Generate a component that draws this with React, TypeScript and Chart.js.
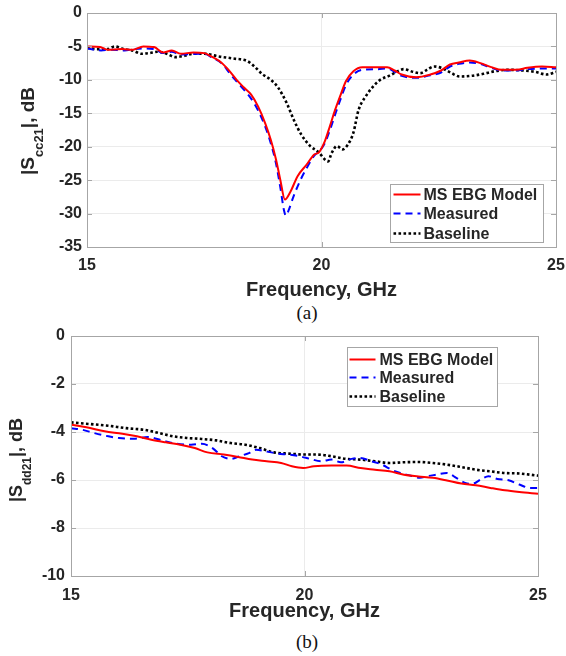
import React, { useEffect, useRef } from 'react';
import { Chart, registerables } from 'chart.js';

Chart.register(...registerables);

// ---------- (a) |Scc21| ----------
const aModelFreq = [15, 15.28, 15.44, 15.74, 15.97, 16.2, 16.43, 16.62, 16.81, 17.0, 17.27, 17.5, 17.65, 17.88, 18.04, 18.19, 18.34, 18.5, 18.65, 18.8, 18.92, 19.03, 19.12, 19.22, 19.34, 19.49, 19.68, 19.84, 19.95, 20.07, 20.18, 20.29, 20.41, 20.52, 20.68, 20.87, 21.17, 21.4, 21.56, 21.71, 22.02, 22.32, 22.55, 22.74, 22.93, 23.16, 23.39, 23.62, 23.85, 24.16, 24.39, 24.7, 25];
const aModel = [-5.0, -5.1, -5.5, -5.4, -5.5, -5.0, -5.1, -5.9, -5.6, -6.1, -5.9, -6.0, -6.5, -7.5, -8.7, -10.0, -11.1, -12.2, -14.0, -16.5, -19.0, -21.9, -24.9, -27.9, -26.7, -24.4, -22.7, -21.2, -20.8, -19.2, -16.9, -14.5, -12.2, -10.2, -8.7, -8.1, -8.1, -8.1, -8.6, -9.2, -9.6, -9.2, -8.6, -7.7, -7.4, -7.1, -7.5, -8.1, -8.5, -8.5, -8.2, -8.0, -8.1];

const aMeasuredFreq = [15, 15.3, 15.5, 15.8, 16.0, 16.2, 16.45, 16.62, 16.8, 17.0, 17.5, 17.65, 17.9, 18.04, 18.2, 18.35, 18.5, 18.65, 18.8, 18.92, 19.03, 19.12, 19.2, 19.24, 19.3, 19.4, 19.55, 19.7, 19.85, 19.95, 20.07, 20.18, 20.3, 20.41, 20.52, 20.68, 20.87, 21.2, 21.4, 21.56, 21.71, 22.02, 22.32, 22.55, 22.74, 22.93, 23.16, 23.39, 23.62, 23.85, 24.16, 24.39, 24.7, 25];
const aMeasured = [-5.3, -5.6, -5.5, -5.6, -5.4, -5.3, -5.4, -6.0, -5.8, -6.2, -6.1, -6.6, -7.7, -9.0, -10.3, -11.5, -12.8, -14.6, -17.0, -19.5, -22.5, -26.0, -29.5, -30.3, -29.5, -27.5, -25.0, -23.0, -21.3, -20.7, -19.5, -17.5, -15.0, -12.8, -10.8, -9.2, -8.5, -8.4, -8.3, -8.8, -9.4, -9.7, -9.3, -8.9, -8.0, -7.6, -7.4, -7.6, -8.2, -8.6, -8.6, -8.4, -8.3, -8.3];

const aBaselineFreq = [15, 15.21, 15.44, 15.59, 15.78, 15.97, 16.16, 16.32, 16.51, 16.7, 16.89, 17.08, 17.27, 17.5, 17.81, 18.11, 18.42, 18.57, 18.73, 18.92, 19.07, 19.26, 19.41, 19.57, 19.76, 19.95, 20.07, 20.14, 20.22, 20.33, 20.45, 20.56, 20.68, 20.79, 20.94, 21.1, 21.25, 21.44, 21.63, 21.75, 21.95, 22.1, 22.25, 22.4, 22.55, 22.75, 22.95, 23.2, 23.45, 23.7, 24.0, 24.3, 24.55, 24.8, 25];
const aBaseline = [-5.2, -5.4, -5.4, -5.0, -5.4, -5.6, -6.1, -6.0, -5.8, -6.1, -6.6, -6.4, -6.1, -6.1, -6.5, -6.8, -7.2, -8.0, -9.1, -10.0, -11.1, -13.5, -16.0, -18.2, -19.9, -20.9, -21.9, -22.2, -20.9, -19.9, -20.4, -19.7, -17.9, -14.5, -12.5, -11.0, -10.0, -9.4, -8.7, -8.4, -8.8, -9.0, -8.5, -8.0, -8.2, -8.9, -9.5, -9.4, -9.1, -8.7, -8.5, -8.6, -8.8, -9.2, -8.8];

// ---------- (b) |Sdd21| ----------
const bModelFreq = [15, 15.33, 15.72, 16.1, 16.41, 16.72, 17.03, 17.34, 17.65, 17.92, 18.27, 18.58, 18.88, 19.19, 19.5, 19.73, 19.97, 20.2, 20.58, 20.9, 21.2, 21.51, 21.82, 22.13, 22.44, 22.75, 23.05, 23.36, 23.67, 23.98, 24.29, 24.6, 25];
const bModel = [-3.7, -3.8, -3.97, -4.07, -4.18, -4.32, -4.43, -4.53, -4.67, -4.85, -4.94, -5.04, -5.15, -5.22, -5.29, -5.43, -5.5, -5.43, -5.4, -5.4, -5.5, -5.57, -5.64, -5.78, -5.85, -5.91, -6.02, -6.15, -6.22, -6.33, -6.43, -6.5, -6.57];

const bMeasuredFreq = [15, 15.25, 15.49, 15.8, 16.03, 16.34, 16.64, 16.95, 17.26, 17.57, 17.8, 18.03, 18.23, 18.42, 18.61, 18.81, 18.96, 19.19, 19.42, 19.66, 19.89, 20.12, 20.35, 20.58, 20.78, 21.01, 21.2, 21.43, 21.66, 21.86, 22.05, 22.28, 22.47, 22.63, 22.82, 23.05, 23.25, 23.44, 23.59, 23.79, 23.94, 24.13, 24.37, 24.6, 24.83, 25];
const bMeasured = [-3.84, -3.91, -4.04, -4.18, -4.25, -4.28, -4.21, -4.35, -4.49, -4.53, -4.49, -4.67, -5.01, -5.12, -5.01, -4.88, -4.74, -4.81, -4.9, -4.94, -5.01, -5.12, -5.22, -5.15, -5.26, -5.12, -5.08, -5.22, -5.36, -5.57, -5.71, -5.82, -5.91, -5.84, -5.78, -5.71, -5.91, -6.12, -6.16, -5.96, -5.84, -5.96, -6.01, -6.19, -6.33, -6.33];

const bBaselineFreq = [15, 15.41, 15.8, 16.18, 16.57, 16.88, 17.19, 17.49, 17.8, 18.11, 18.42, 18.73, 19.04, 19.35, 19.66, 20.0, 20.27, 20.58, 20.89, 21.2, 21.51, 21.82, 22.13, 22.44, 22.75, 23.05, 23.36, 23.67, 23.98, 24.29, 24.6, 25];
const bBaseline = [-3.6, -3.67, -3.74, -3.84, -3.91, -4.04, -4.18, -4.25, -4.29, -4.35, -4.46, -4.53, -4.67, -4.85, -4.9, -4.94, -4.94, -5.01, -5.12, -5.15, -5.22, -5.29, -5.26, -5.25, -5.29, -5.36, -5.46, -5.57, -5.64, -5.71, -5.73, -5.82];

const seriesLabels = ['MS EBG Model', 'Measured', 'Baseline'];
const xTicks = [15, 20, 25];
const aYTicks = [-35, -30, -25, -20, -15, -10, -5, 0];
const bYTicks = [-10, -8, -6, -4, -2, 0];

const TEXT = '#262626';
const FONT = '"Liberation Sans", Arial, sans-serif';

const panelPlugin = {
  id: 'panel',
  afterDraw(chart: any, _args: any, opts: any) {
    const ctx = chart.ctx as CanvasRenderingContext2D;
    const a = chart.chartArea;
    ctx.save();
    // frame
    ctx.strokeStyle = '#a6a6a6';
    ctx.lineWidth = 1;
    ctx.setLineDash([]);
    ctx.strokeRect(Math.round(a.left) + 0.5, Math.round(a.top) + 0.5, Math.round(a.right - a.left), Math.round(a.bottom - a.top));
    // inward tick marks
    const tl = 5;
    ctx.beginPath();
    chart.scales.x.ticks.forEach((t: any) => {
      const px = Math.round(chart.scales.x.getPixelForValue(t.value)) + 0.5;
      ctx.moveTo(px, a.bottom); ctx.lineTo(px, a.bottom - tl);
      ctx.moveTo(px, a.top); ctx.lineTo(px, a.top + tl);
    });
    chart.scales.y.ticks.forEach((t: any) => {
      const py = Math.round(chart.scales.y.getPixelForValue(t.value)) + 0.5;
      ctx.moveTo(a.left, py); ctx.lineTo(a.left + tl, py);
      ctx.moveTo(a.right, py); ctx.lineTo(a.right - tl, py);
    });
    ctx.stroke();

    // legend
    const lg = opts.legend;
    const lx = Math.round(a.right - lg.fromRight) + 0.5;
    const ly = Math.round(lg.fromBottom != null ? a.bottom - lg.fromBottom : a.top + lg.fromTop) + 0.5;
    ctx.fillStyle = '#ffffff';
    ctx.fillRect(lx, ly, lg.w, lg.h);
    ctx.strokeStyle = '#a6a6a6';
    ctx.lineWidth = 1;
    ctx.strokeRect(lx, ly, lg.w, lg.h);
    ctx.font = `bold 16px ${FONT}`;
    ctx.textBaseline = 'middle';
    ctx.textAlign = 'left';
    chart.data.datasets.forEach((ds: any, i: number) => {
      const ry = ly + lg.rows[i];
      ctx.strokeStyle = ds.borderColor;
      ctx.lineWidth = ds.borderWidth;
      ctx.setLineDash(ds.borderDash || []);
      ctx.beginPath();
      ctx.moveTo(lx + lg.lineX0, ry);
      ctx.lineTo(lx + lg.lineX1, ry);
      ctx.stroke();
      ctx.setLineDash([]);
      ctx.fillStyle = TEXT;
      ctx.fillText(ds.label, lx + lg.textX, ry + 1);
    });

    // y title with subscript
    const yt = opts.yTitle;
    ctx.translate(yt.x, yt.y);
    ctx.rotate(-Math.PI / 2);
    ctx.fillStyle = TEXT;
    ctx.textBaseline = 'alphabetic';
    const mainFont = `bold ${yt.size}px ${FONT}`;
    const subFont = `bold ${yt.subSize}px ${FONT}`;
    ctx.font = mainFont;
    const w1 = ctx.measureText(yt.pre).width;
    const w3 = ctx.measureText(yt.post).width;
    ctx.font = subFont;
    const w2 = ctx.measureText(yt.sub).width;
    let cx = -(w1 + w2 + w3) / 2;
    ctx.font = mainFont;
    ctx.fillText(yt.pre, cx, 0);
    cx += w1;
    ctx.font = subFont;
    ctx.fillText(yt.sub, cx, yt.subShift);
    cx += w2;
    ctx.font = mainFont;
    ctx.fillText(yt.post, cx, 0);
    ctx.restore();
  },
};

type PanelCfg = {
  series: { freq: number[]; val: number[] }[];
  yTicks: number[];
  height: number;
  padTop: number;
  padRight: number;
  yAxisWidth: number;
  xAxisHeight: number;
  xTickPad: number;
  yTickPad: number;
  xTitlePad: number;
  legend: any;
  yTitle: any;
};

const styles = [
  { color: '#ff0000', width: 2, dash: [] as number[] },
  { color: '#0000ff', width: 2, dash: [7, 5] },
  { color: '#000000', width: 2.6, dash: [2.6, 2.4] },
];

function Panel({ cfg, top }: { cfg: PanelCfg; top: number }) {
  const ref = useRef<HTMLCanvasElement>(null);
  useEffect(() => {
    if (!ref.current) return;
    const tickFont = { family: FONT, size: 16, weight: 'bold' as const };
    const chart = new Chart(ref.current, {
      type: 'line',
      data: {
        datasets: cfg.series.map((s, i) => ({
          label: seriesLabels[i],
          data: s.freq.map((f, j) => ({ x: f, y: s.val[j] })),
          borderColor: styles[i].color,
          borderWidth: styles[i].width,
          borderDash: styles[i].dash,
          pointRadius: 0,
          fill: false,
          cubicInterpolationMode: 'monotone' as const,
        })),
      },
      options: {
        responsive: false,
        animation: false,
        devicePixelRatio: 1,
        layout: { padding: { left: 0, right: cfg.padRight, top: cfg.padTop, bottom: 0 } },
        plugins: {
          legend: { display: false },
          tooltip: { enabled: false },
          panel: { legend: cfg.legend, yTitle: cfg.yTitle },
        } as any,
        scales: {
          x: {
            type: 'linear',
            min: xTicks[0],
            max: xTicks[xTicks.length - 1],
            afterBuildTicks: (s: any) => { s.ticks = xTicks.map((v) => ({ value: v })); },
            ticks: { padding: 0, font: tickFont, color: TEXT, maxRotation: 0 },
            grid: { color: '#ebebeb', drawTicks: true, tickLength: cfg.xTickPad, tickColor: 'rgba(0,0,0,0)' },
            border: { display: false },
            title: {
              display: true,
              text: 'Frequency, GHz',
              color: TEXT,
              font: { family: FONT, size: 20, weight: 'bold', lineHeight: 1 },
              padding: { top: 0, bottom: cfg.xTitlePad },
            },
            afterFit: (s: any) => { s.height = cfg.xAxisHeight; },
          },
          y: {
            type: 'linear',
            min: cfg.yTicks[0],
            max: cfg.yTicks[cfg.yTicks.length - 1],
            afterBuildTicks: (s: any) => { s.ticks = cfg.yTicks.map((v) => ({ value: v })); },
            ticks: { padding: 0, font: tickFont, color: TEXT },
            grid: { color: '#ebebeb', drawTicks: true, tickLength: cfg.yTickPad, tickColor: 'rgba(0,0,0,0)' },
            border: { display: false },
            afterFit: (s: any) => { s.width = cfg.yAxisWidth; },
          },
        },
      } as any,
      plugins: [panelPlugin],
    });
    return () => chart.destroy();
  }, [cfg]);
  return (
    <canvas
      ref={ref}
      width={566}
      height={cfg.height}
      style={{ position: 'absolute', left: 0, top, width: 566, height: cfg.height }}
    />
  );
}

const cfgA: PanelCfg = {
  series: [
    { freq: aModelFreq, val: aModel },
    { freq: aMeasuredFreq, val: aMeasured },
    { freq: aBaselineFreq, val: aBaseline },
  ],
  yTicks: aYTicks,
  height: 300,
  padTop: 13,
  padRight: 10,
  yAxisWidth: 87,
  xAxisHeight: 53,
  xTickPad: 9,
  yTickPad: 5,
  xTitlePad: 0,
  legend: { fromRight: 166, fromBottom: 63, w: 153, h: 58, rows: [10, 29, 49], lineX0: 3, lineX1: 30, textX: 33 },
  yTitle: { x: 33.5, y: 131, size: 19, subSize: 13, pre: '|S', sub: 'cc21', post: '|, dB', subShift: 9 },
};

const cfgB: PanelCfg = {
  series: [
    { freq: bModelFreq, val: bModel },
    { freq: bMeasuredFreq, val: bMeasured },
    { freq: bBaselineFreq, val: bBaseline },
  ],
  yTicks: bYTicks,
  height: 301,
  padTop: 16,
  padRight: 28,
  yAxisWidth: 71,
  xAxisHeight: 45,
  xTickPad: 10,
  yTickPad: 6,
  xTitlePad: 0,
  legend: { fromRight: 191, fromTop: 11, w: 150, h: 59, rows: [12, 30, 49], lineX0: 2, lineX1: 28, textX: 32 },
  yTitle: { x: 21.5, y: 140, size: 18, subSize: 12, pre: '|S', sub: 'dd21', post: '|, dB', subShift: 9 },
};

export default function App() {
  const cap: React.CSSProperties = {
    position: 'absolute',
    left: 257,
    width: 100,
    textAlign: 'center',
    fontFamily: '"Liberation Serif", "Times New Roman", serif',
    fontSize: 19,
    lineHeight: '20px',
    color: '#111',
  };
  return (
    <div style={{ position: 'absolute', left: 0, top: 0, width: 566, height: 656, background: '#fff' }}>
      <Panel cfg={cfgA} top={0} />
      <div style={{ ...cap, top: 303 }}>(a)</div>
      <Panel cfg={cfgB} top={320} />
      <div style={{ ...cap, top: 632 }}>(b)</div>
    </div>
  );
}
